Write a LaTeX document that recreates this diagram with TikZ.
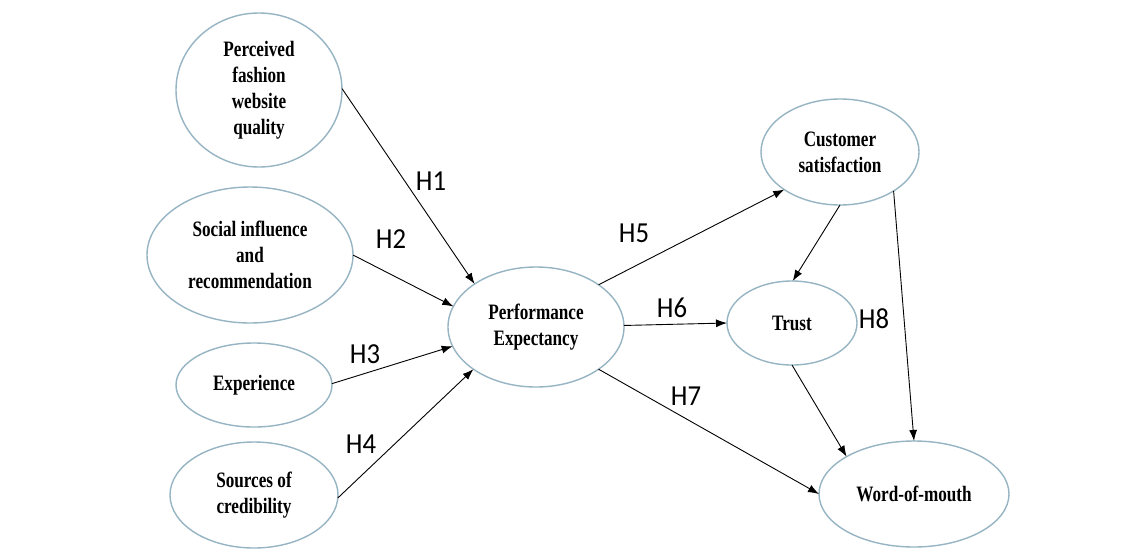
\documentclass[tikz,border=0pt]{standalone}
\usepackage{fontspec}
\setmainfont{Liberation Serif}
\newfontfamily\nodefont[FakeStretch=0.78]{Liberation Serif}
\newfontfamily\hfont[FakeStretch=0.92]{Carlito}
\usetikzlibrary{shapes.geometric,arrows.meta}
\definecolor{ellc}{RGB}{150,180,195}
\begin{document}
\begin{tikzpicture}[x=1pt,y=-1pt,
  latent/.style={ellipse, draw=ellc, line width=1.4pt, fill=white, inner sep=0pt, outer sep=0pt,
    align=center, font=\nodefont\bfseries\fontsize{22}{26}\selectfont},
  patharrow/.style={-{Latex[length=11pt,width=8pt]}, line width=0.9pt, black},
  hlab/.style={font=\hfont\fontsize{29}{29}\selectfont, inner sep=0pt}]
\useasboundingbox (0,0) rectangle (1143,552);
\fill[white] (0,0) rectangle (1143,552);

\node[latent, minimum width=166pt, minimum height=154pt] (pfq) at (259,90) {Perceived\\fashion\\website\\quality};
\node[latent, minimum width=206pt, minimum height=136pt] (sir) at (250,255) {Social influence\\and\\recommendation};
\node[latent, minimum width=156pt, minimum height=84pt] (exp) at (254,385) {Experience};
\node[latent, minimum width=168pt, minimum height=106pt] (soc) at (254,495) {Sources of\\credibility};
\node[latent, minimum width=176pt, minimum height=120pt] (pe) at (536,327) {Performance\\Expectancy};
\node[latent, minimum width=158pt, minimum height=106pt] (cs) at (840,152) {Customer\\satisfaction};
\node[latent, minimum width=130pt, minimum height=84pt] (tr) at (792,323) {Trust};
\node[latent, minimum width=190pt, minimum height=106pt] (wom) at (914,494) {Word-of-mouth};

\draw[patharrow] (pfq.1) -- (pe.145);
\draw[patharrow] (sir.0) -- (pe.166);
\draw[patharrow] (exp.1) -- (pe.193);
\draw[patharrow] (soc.358) -- (pe.214);
\draw[patharrow] (pe.34) -- (cs.214);
\draw[patharrow] (pe.1) -- (tr.180);
\draw[patharrow] (pe.326) -- (wom.180);
\draw[patharrow] (cs.270) -- (tr.89);
\draw[patharrow] (cs.324) -- (wom.90);
\draw[patharrow] (tr.270) -- (wom.151);

\node[hlab] (h1) at (431,181) {H1};
\node[hlab] (h2) at (391,239) {H2};
\node[hlab] (h3) at (365,354) {H3};
\node[hlab] (h4) at (361,444) {H4};
\node[hlab] (h5) at (634,233) {H5};
\node[hlab] (h6) at (672,308) {H6};
\node[hlab] (h7) at (686,396) {H7};
\node[hlab] (h8) at (874,319) {H8};
\end{tikzpicture}
\end{document}
